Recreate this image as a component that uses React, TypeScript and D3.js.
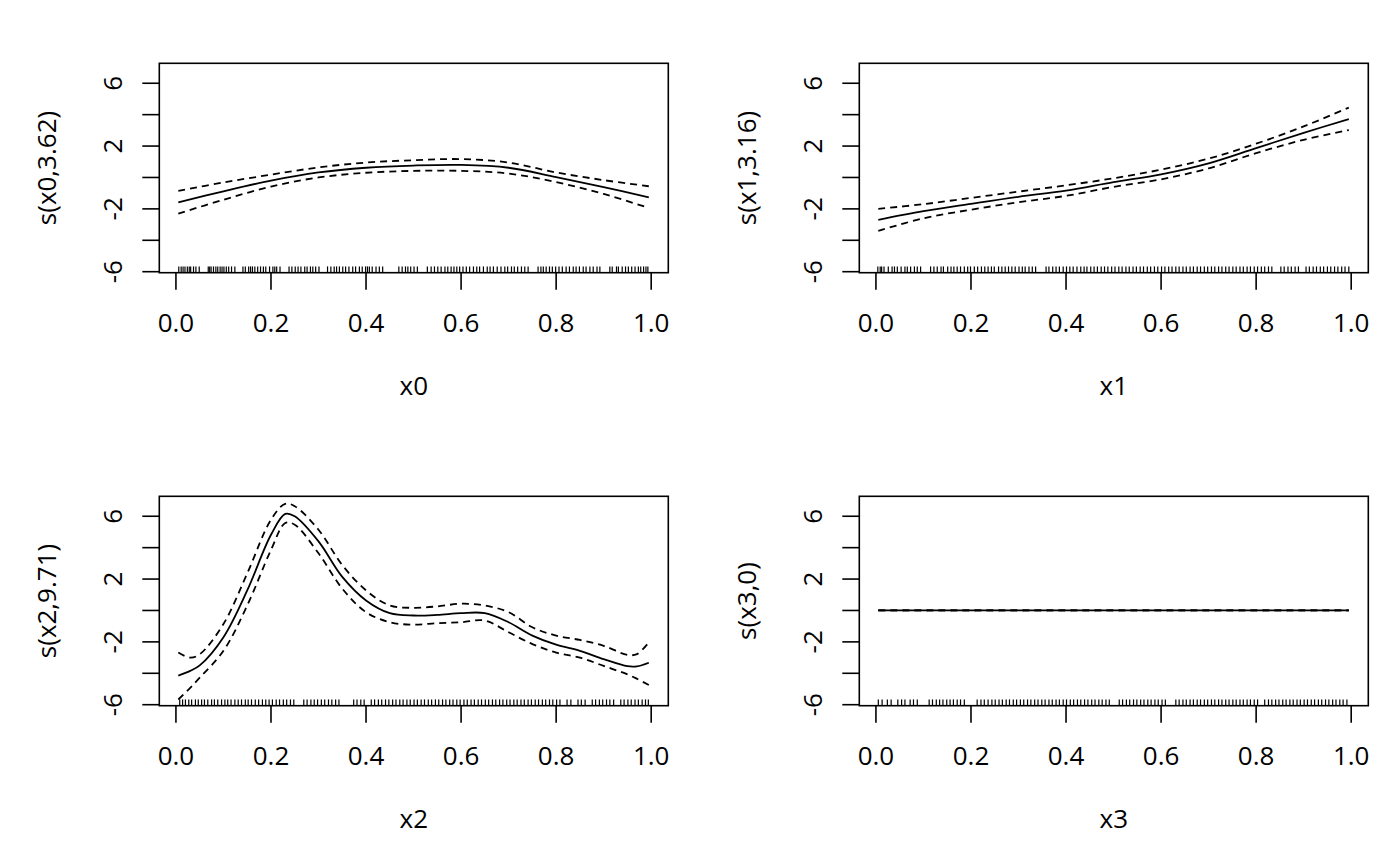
import React from 'react';
import * as d3 from 'd3';

// smooth terms: x grid, fit, upper and lower 2se bands
const grid10 = [0.005, 0.1, 0.2, 0.3, 0.4, 0.5, 0.6, 0.7, 0.8, 0.9, 0.995];

const x0Fit = [-1.58, -0.88, -0.2, 0.32, 0.62, 0.76, 0.8, 0.62, 0.02, -0.62, -1.26];
const x0Upper = [-0.85, -0.32, 0.18, 0.64, 0.95, 1.1, 1.17, 0.95, 0.32, -0.17, -0.56];
const x0Lower = [-2.3, -1.42, -0.58, 0.0, 0.3, 0.42, 0.42, 0.25, -0.3, -1.05, -1.94];

const x1Fit = [-2.7, -2.15, -1.68, -1.23, -0.84, -0.3, 0.2, 0.9, 1.87, 2.84, 3.72];
const x1Upper = [-2.0, -1.7, -1.3, -0.9, -0.5, -0.05, 0.5, 1.2, 2.15, 3.25, 4.45];
const x1Lower = [-3.4, -2.6, -2.05, -1.58, -1.17, -0.6, -0.12, 0.58, 1.55, 2.4, 3.02];

const grid05 = [0.005, 0.03, 0.05, 0.1, 0.15, 0.2, 0.23, 0.25, 0.3, 0.35, 0.4, 0.45, 0.5, 0.55, 0.6, 0.65,
  0.7, 0.75, 0.8, 0.85, 0.9, 0.95, 0.97, 0.995];
const x2Fit = [-4.15, -3.85, -3.5, -1.7, 1.28, 4.82, 6.15, 6.0, 4.4, 2.14, 0.64, -0.17, -0.32, -0.28, -0.17,
  -0.17, -0.75, -1.6, -2.18, -2.57, -3.1, -3.55, -3.56, -3.33];
const x2Upper = [-2.68, -3.0, -2.79, -0.86, 2.36, 5.78, 6.79, 6.64, 5.14, 2.89, 1.28, 0.32, 0.17, 0.26, 0.43,
  0.32, -0.11, -1.07, -1.6, -1.88, -2.25, -2.83, -2.78, -2.03];
const x2Lower = [-5.67, -4.93, -4.28, -2.57, 0.32, 3.85, 5.57, 5.46, 3.64, 1.39, -0.11, -0.75, -0.9, -0.81,
  -0.75, -0.64, -1.39, -2.14, -2.68, -3.0, -3.53, -4.07, -4.35, -4.75];

const grid2 = [0.005, 0.995];
const x3Fit = [0, 0];
const x3Upper = [0, 0];
const x3Lower = [0, 0];

// rug positions
const x0Rug = [0.006, 0.011, 0.015, 0.019, 0.024, 0.028, 0.031, 0.037, 0.042, 0.049, 0.068, 0.071, 0.074, 0.079,
  0.084, 0.088, 0.093, 0.097, 0.101, 0.106, 0.111, 0.117, 0.124, 0.141, 0.146, 0.153, 0.157, 0.161, 0.166, 0.172,
  0.178, 0.184, 0.189, 0.197, 0.204, 0.208, 0.212, 0.219, 0.238, 0.244, 0.251, 0.257, 0.263, 0.271, 0.276, 0.283,
  0.288, 0.294, 0.301, 0.319, 0.326, 0.333, 0.338, 0.344, 0.351, 0.357, 0.364, 0.372, 0.378, 0.386, 0.392, 0.399,
  0.403, 0.407, 0.413, 0.421, 0.428, 0.435, 0.469, 0.476, 0.483, 0.488, 0.494, 0.501, 0.508, 0.529, 0.537, 0.544,
  0.551, 0.558, 0.566, 0.572, 0.579, 0.585, 0.591, 0.597, 0.604, 0.611, 0.618, 0.626, 0.633, 0.639, 0.647, 0.655,
  0.661, 0.668, 0.676, 0.684, 0.692, 0.698, 0.706, 0.712, 0.719, 0.727, 0.734, 0.741, 0.762, 0.768, 0.773, 0.779,
  0.786, 0.792, 0.799, 0.806, 0.813, 0.821, 0.828, 0.836, 0.842, 0.849, 0.857, 0.863, 0.871, 0.878, 0.886, 0.892,
  0.913, 0.918, 0.927, 0.931, 0.939, 0.946, 0.952, 0.959, 0.966, 0.973, 0.978, 0.984, 0.989, 0.993];
const x1Rug = [0.004, 0.009, 0.012, 0.017, 0.026, 0.034, 0.039, 0.045, 0.053, 0.061, 0.066, 0.073, 0.081, 0.087,
  0.094, 0.115, 0.122, 0.129, 0.137, 0.142, 0.151, 0.158, 0.164, 0.171, 0.178, 0.186, 0.193, 0.199, 0.207, 0.214,
  0.222, 0.229, 0.236, 0.243, 0.249, 0.258, 0.265, 0.272, 0.279, 0.286, 0.293, 0.301, 0.308, 0.314, 0.322, 0.329,
  0.336, 0.358, 0.364, 0.372, 0.379, 0.386, 0.394, 0.401, 0.408, 0.415, 0.423, 0.431, 0.438, 0.444, 0.452, 0.459,
  0.466, 0.474, 0.481, 0.488, 0.496, 0.503, 0.511, 0.518, 0.526, 0.533, 0.541, 0.548, 0.556, 0.563, 0.571, 0.578,
  0.586, 0.593, 0.601, 0.608, 0.616, 0.623, 0.631, 0.638, 0.646, 0.653, 0.661, 0.668, 0.676, 0.683, 0.691, 0.698,
  0.706, 0.713, 0.721, 0.728, 0.736, 0.743, 0.751, 0.758, 0.766, 0.773, 0.781, 0.788, 0.796, 0.803, 0.811, 0.818,
  0.826, 0.833, 0.852, 0.859, 0.867, 0.874, 0.882, 0.889, 0.905, 0.912, 0.92, 0.927, 0.935, 0.942, 0.95, 0.957,
  0.965, 0.972, 0.98, 0.987, 0.995];
const x2Rug = [0.008, 0.014, 0.02, 0.027, 0.033, 0.041, 0.047, 0.054, 0.06, 0.067, 0.075, 0.081, 0.088, 0.096,
  0.103, 0.109, 0.116, 0.124, 0.131, 0.138, 0.146, 0.152, 0.159, 0.167, 0.174, 0.182, 0.189, 0.196, 0.203, 0.211,
  0.218, 0.226, 0.233, 0.241, 0.248, 0.269, 0.276, 0.284, 0.291, 0.298, 0.306, 0.313, 0.321, 0.328, 0.336, 0.343,
  0.374, 0.381, 0.389, 0.396, 0.411, 0.418, 0.426, 0.433, 0.441, 0.448, 0.456, 0.463, 0.471, 0.478, 0.486, 0.493,
  0.501, 0.508, 0.516, 0.523, 0.531, 0.538, 0.546, 0.553, 0.561, 0.568, 0.576, 0.583, 0.591, 0.598, 0.606, 0.613,
  0.621, 0.628, 0.636, 0.643, 0.651, 0.658, 0.666, 0.673, 0.681, 0.688, 0.696, 0.703, 0.711, 0.718, 0.726, 0.733,
  0.741, 0.748, 0.756, 0.763, 0.771, 0.778, 0.786, 0.793, 0.801, 0.808, 0.823, 0.831, 0.846, 0.853, 0.861, 0.876,
  0.883, 0.891, 0.898, 0.906, 0.913, 0.921, 0.936, 0.943, 0.951, 0.958, 0.966, 0.973, 0.981, 0.988, 0.994];
const x3Rug = [0.005, 0.013, 0.024, 0.032, 0.046, 0.054, 0.061, 0.072, 0.079, 0.087, 0.112, 0.119, 0.127, 0.134,
  0.141, 0.149, 0.156, 0.163, 0.171, 0.178, 0.186, 0.213, 0.221, 0.228, 0.236, 0.244, 0.251, 0.259, 0.266, 0.274,
  0.281, 0.289, 0.296, 0.304, 0.311, 0.319, 0.326, 0.334, 0.341, 0.349, 0.356, 0.364, 0.371, 0.379, 0.386, 0.394,
  0.401, 0.409, 0.416, 0.424, 0.431, 0.439, 0.446, 0.454, 0.461, 0.469, 0.476, 0.484, 0.491, 0.512, 0.519, 0.527,
  0.534, 0.542, 0.549, 0.557, 0.564, 0.572, 0.579, 0.587, 0.594, 0.602, 0.609, 0.631, 0.638, 0.646, 0.653, 0.661,
  0.668, 0.676, 0.683, 0.691, 0.698, 0.706, 0.713, 0.721, 0.728, 0.736, 0.743, 0.751, 0.758, 0.766, 0.773, 0.781,
  0.788, 0.796, 0.803, 0.818, 0.826, 0.833, 0.841, 0.848, 0.856, 0.863, 0.871, 0.878, 0.886, 0.893, 0.901, 0.908,
  0.916, 0.923, 0.931, 0.938, 0.946, 0.953, 0.961, 0.968, 0.976, 0.983, 0.991];

const xTicks = [0, 0.2, 0.4, 0.6, 0.8, 1.0];
const yTicks = [-6, -4, -2, 0, 2, 4, 6];
const yLabelled = [-6, -2, 2, 6];

const panels = [
  { xlab: 'x0', ylab: 's(x0,3.62)', grid: grid10, fit: x0Fit, upper: x0Upper, lower: x0Lower, rug: x0Rug },
  { xlab: 'x1', ylab: 's(x1,3.16)', grid: grid10, fit: x1Fit, upper: x1Upper, lower: x1Lower, rug: x1Rug },
  { xlab: 'x2', ylab: 's(x2,9.71)', grid: grid05, fit: x2Fit, upper: x2Upper, lower: x2Lower, rug: x2Rug },
  { xlab: 'x3', ylab: 's(x3,0)', grid: grid2, fit: x3Fit, upper: x3Upper, lower: x3Lower, rug: x3Rug },
];

const W = 1400;
const H = 866;
const box = { left: 159.3, right: 668.3, top: 63.3, bottom: 272.7 };
const font = "'Open Sans', 'Noto Sans', sans-serif";
const fs = 26;

type PanelProps = (typeof panels)[number] & { ox: number; oy: number };

const Panel: React.FC<PanelProps> = ({ ox, oy, xlab, ylab, grid, fit, upper, lower, rug }) => {
  const x = d3.scaleLinear().domain([-0.035, 1.036]).range([box.left, box.right]);
  const y = d3.scaleLinear().domain([-6.064, 7.27]).range([box.bottom, box.top]);
  const line = d3.line<number>()
    .x((_, i) => x(grid[i]))
    .y(d => y(d))
    .curve(d3.curveCatmullRom.alpha(0.5));
  const tick = 17;
  const rugLen = 0.03 * (box.bottom - box.top);

  return (
    <g transform={`translate(${ox},${oy})`}>
      {rug.map((r, i) => (
        <line key={i} x1={x(r)} x2={x(r)} y1={box.bottom} y2={box.bottom - rugLen} stroke="#000" strokeWidth={1.2} />
      ))}
      <path d={line(fit) ?? ''} fill="none" stroke="#000" strokeWidth={1.8} />
      <path d={line(upper) ?? ''} fill="none" stroke="#000" strokeWidth={1.8} strokeDasharray="7,5" />
      <path d={line(lower) ?? ''} fill="none" stroke="#000" strokeWidth={1.8} strokeDasharray="7,5" />
      <rect x={box.left} y={box.top} width={box.right - box.left} height={box.bottom - box.top}
        fill="none" stroke="#000" strokeWidth={1.6} />
      {xTicks.map(t => (
        <g key={t}>
          <line x1={x(t)} x2={x(t)} y1={box.bottom} y2={box.bottom + tick} stroke="#000" strokeWidth={1.6} />
          <text x={x(t)} y={332} textAnchor="middle" fontFamily={font} fontSize={fs}>{t.toFixed(1)}</text>
        </g>
      ))}
      {yTicks.map(t => (
        <line key={t} x1={box.left - tick} x2={box.left} y1={y(t)} y2={y(t)} stroke="#000" strokeWidth={1.6} />
      ))}
      {yLabelled.map(t => (
        <text key={t} transform={`translate(122,${y(t)}) rotate(-90)`} textAnchor="middle"
          fontFamily={font} fontSize={fs}>{t}</text>
      ))}
      <text x={(box.left + box.right) / 2} y={395} textAnchor="middle" fontFamily={font} fontSize={fs}>{xlab}</text>
      <text transform={`translate(56,${(box.top + box.bottom) / 2}) rotate(-90)`} textAnchor="middle"
        fontFamily={font} fontSize={fs}>{ylab}</text>
    </g>
  );
};

export default function App() {
  return (
    <svg width={W} height={H} style={{ position: 'absolute', left: 0, top: 0, background: '#fff' }}>
      <rect width={W} height={H} fill="#fff" />
      {panels.map((p, i) => (
        <Panel key={p.xlab} {...p} ox={(i % 2) * 700} oy={Math.floor(i / 2) * 433} />
      ))}
    </svg>
  );
}
